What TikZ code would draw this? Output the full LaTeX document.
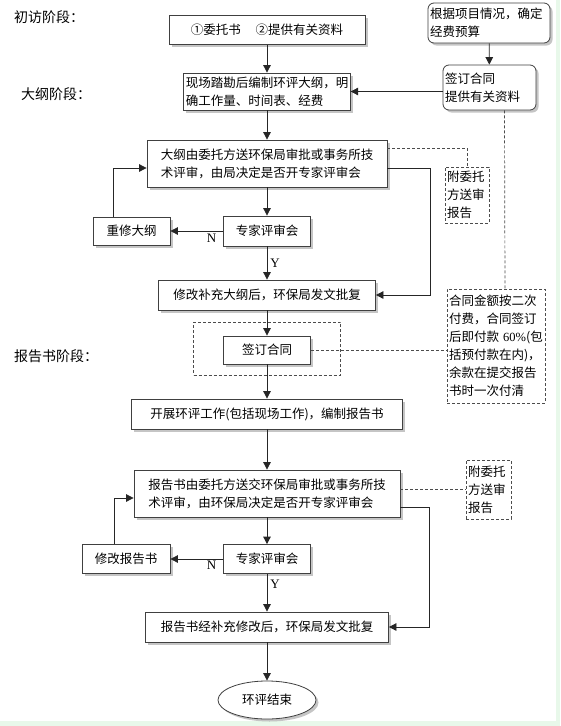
\documentclass[tikz,border=0pt]{standalone}
\usepackage{fontspec}
\setmainfont{Noto Sans CJK SC}
\newfontfamily\latinserif{Liberation Serif}
\usetikzlibrary{arrows.meta,positioning,calc,shapes.geometric,shadows}
\definecolor{edgegreen}{RGB}{232,248,234}

\begin{document}
\begin{tikzpicture}[
  x=1pt, y=-1pt,
  every node/.style={font=\fontsize{12.5}{18}\selectfont, inner sep=2pt, align=left},
  box/.style={draw=black!75, fill=white, line width=0.8pt, drop shadow={shadow xshift=2.5pt, shadow yshift=-2.5pt, fill=black!45, opacity=0.5}},
  roundbox/.style={box, rounded corners=6pt},
  note/.style={draw=black!70, dash pattern=on 3pt off 2pt, line width=0.7pt},
  stage/.style={font=\fontsize{14}{16}\selectfont},
  yn/.style={font=\latinserif\fontsize{13}{14}\selectfont, inner sep=0pt},
  arrow/.style={-{Triangle[length=7.5pt,width=7.5pt]}, line width=0.8pt, draw=black!85},
  dashline/.style={draw=black!70, dash pattern=on 3pt off 2pt, line width=0.7pt}
]
  \fill[white] (0,0) rectangle (560,726);
  \fill[edgegreen] (556,0) rectangle (560,726);
  \fill[edgegreen] (0,721) rectangle (560,726);
  \useasboundingbox (0,0) rectangle (560,726);

  \node[stage] (visit) at (49,17) {初访阶段：};
  \node[stage] (outline) at (56,94) {大纲阶段：};
  \node[stage] (stagereport) at (56,356) {报告书阶段：};

  \node[box, minimum width=196pt, minimum height=29pt] (entrust) at (267,30) {①委托书\hspace{1.2em}②提供有关资料};
  \node[roundbox, text width=118pt, minimum height=40pt] (budget) at (489,23) {根据项目情况，确定\\经费预算};
  \node[roundbox, text width=89pt, minimum height=45pt] (contract) at (489.5,87.5) {签订合同\\提供有关资料};
  \node[box, minimum width=164pt, minimum height=37pt] (survey) at (267,91.5) {现场踏勘后编制环评大纲，明\\确工作量、时间表、经费};
  \node[box, minimum width=240pt, minimum height=47pt] (review) at (267,163.5) {大纲由委托方送环保局审批或事务所技\\术评审，由局决定是否开专家评审会};
  \node[note, text width=40pt, minimum height=56pt] (attach) at (467,195) {附委托\\方送审\\报告};
  \node[box, minimum width=87pt, minimum height=30pt] (expert) at (267,231) {专家评审会};
  \node[box, minimum width=77pt, minimum height=28pt] (redo) at (131.5,231) {重修大纲};
  \node[box, minimum width=217pt, minimum height=30pt] (approve) at (267,295) {修改补充大纲后，环保局发文批复};
  \node[note, minimum width=147pt, minimum height=53pt] (frame) at (267,348.5) {};
  \node[box, minimum width=87pt, minimum height=28pt] (sign) at (267,350) {签订合同};
  \node[note, text width=94pt, minimum height=114pt] (pay) at (496,346) {合同金额按二次\\付费，合同签订\\后即付款 {\latinserif 60\%}(包\\括预付款在内)，\\余款在提交报告\\书时一次付清};
  \node[box, minimum width=271pt, minimum height=30pt] (work) at (267,414) {开展环评工作(包括现场工作)，编制报告书};
  \node[box, minimum width=266pt, minimum height=47pt] (submit) at (267,493.5) {报告书由委托方送交环保局审批或事务所技\\术评审，由环保局决定是否开专家评审会};
  \node[note, text width=41pt, minimum height=59pt] (attach2) at (488.5,489.5) {附委托\\方送审\\报告};
  \node[box, minimum width=87pt, minimum height=29pt] (expert2) at (267,559) {专家评审会};
  \node[box, minimum width=88pt, minimum height=29pt] (revise) at (126,559) {修改报告书};
  \node[box, minimum width=243pt, minimum height=30pt] (final) at (267,627) {报告书经补充修改后，环保局发文批复};
  \node[box, ellipse, minimum width=98pt, minimum height=38pt, inner sep=0pt] (finish) at (267,700) {环评结束};

  \draw[arrow] (entrust) -- (survey);
  \draw[arrow] (budget) -- (contract);
  \draw[arrow] (contract.west |- survey.east) -- (survey.east);
  \draw[dashline] ($(contract.south)+(15,0)$) -- ($(pay.north)+(9,0)$);
  \draw[arrow] (survey) -- (review);
  \draw[dashline] ($(review.east)+(0,-15.5)$) -| (attach.north);
  \draw[arrow] ($(review.east)+(0,4.5)$) -- ++(43,0) |- (approve.east);
  \draw[arrow] (review) -- (expert);
  \draw[arrow] (expert) -- node[yn, pos=0.22, below=3pt] {N} (redo);
  \draw[arrow] (expert) -- node[yn, pos=0.5, right=3pt] {Y} (approve);
  \draw[arrow] ($(redo.north)+(-18,0)$) |- ($(review.west)+(0,4.5)$);
  \draw[arrow] (approve) -- (sign);
  \draw[dashline] (sign.east) -- (sign.east -| pay.west);
  \draw[arrow] (sign) -- (work);
  \draw[arrow] (work) -- (submit);
  \draw[dashline] (submit.east |- attach2.west) -- (attach2.west);
  \draw[arrow] ($(submit.east)+(0,13.5)$) -- ++(29,0) |- (final.east);
  \draw[arrow] (submit) -- (expert2);
  \draw[arrow] (expert2) -- node[yn, pos=0.22, below=2pt] {N} (revise);
  \draw[arrow] (expert2) -- node[yn, pos=0.28, right=3pt] {Y} (final);
  \draw[arrow] ($(revise.north)+(-12,0)$) |- ($(submit.west)+(0,4.5)$);
  \draw[arrow] (final) -- (finish);
\end{tikzpicture}
\end{document}
